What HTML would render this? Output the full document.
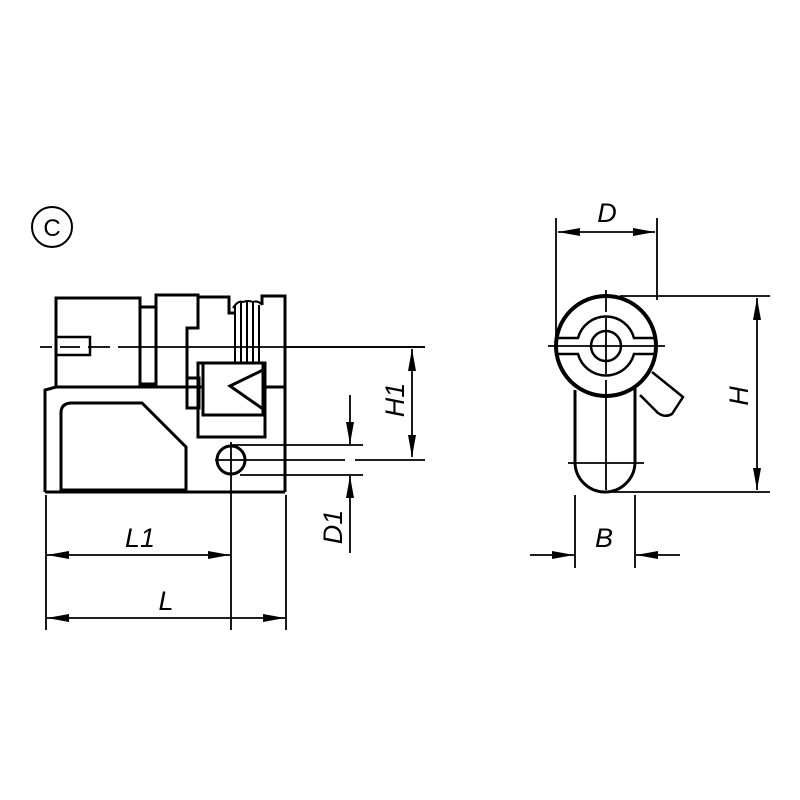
<!DOCTYPE html>
<html><head><style>body{margin:0;background:#fff}svg{display:block}</style></head><body>
<svg width="800" height="800" viewBox="0 0 800 800" xmlns="http://www.w3.org/2000/svg">
<defs>
<marker id="a" viewBox="0 0 22 8" refX="22" refY="4" markerWidth="22" markerHeight="8" markerUnits="userSpaceOnUse" orient="auto-start-reverse"><path d="M0,0 L22,4 L0,8 z" fill="#000"/></marker>
</defs>
<g fill="none" stroke="#000" stroke-width="3" stroke-linejoin="miter">
<circle cx="52" cy="227" r="20" stroke-width="2"/>
<path d="M56,387 V298 H140 V307 H155"/>
<rect x="140" y="307" width="16" height="77"/>
<path d="M156,384 V295 H198 V328 H187 V378"/>
<rect x="187" y="378" width="12" height="30"/>
<path d="M198,297 H229 V313 H234"/>
<path d="M262,305 V296 H285 V492"/>
<path d="M45,492 V390 L56,387 H202"/>
<path d="M263,387 H285"/>
<path d="M45,492 H285"/>
<path d="M61,490 V413 Q61,403 72,403 H142 L186,447 V490 Z"/>
<rect x="198" y="363" width="67" height="74"/>
<rect x="203" y="363" width="60" height="52"/>
<path d="M263,370 L230,386 L263,409"/>
<g stroke-width="2"><path d="M235,363 V305 M241,363 V302 M247,363 V302 M253,363 V302 M259,363 V305 M233,308 Q238,300 243,302 Q248,300 253,302 Q258,300 262,305"/></g>
<circle cx="231" cy="460" r="14"/>
<path d="M56,337 H90 V355 H56" stroke-width="2.5"/>
<g stroke-width="1.8">
<path d="M40,347 H52 M60,347 H80 M88,347 H110 M118,347 H425"/>
<path d="M231,442 V630 M215,460 H345 M355,460 H425 M231,445 H363 M240,475 H363 M46,495 V630 M286,495 V630 M286,347 H425"/>
<path d="M412,349 V457" marker-start="url(#a)" marker-end="url(#a)"/>
<path d="M350,395 V444" marker-end="url(#a)"/>
<path d="M350,553 V476" marker-end="url(#a)"/>
<path d="M47,555 H230" marker-start="url(#a)" marker-end="url(#a)"/>
<path d="M47,618 H285" marker-start="url(#a)" marker-end="url(#a)"/>
</g>
<path d="M575,390 V462 A30,30 0 0 0 635,462 V385" />
<circle cx="606" cy="346" r="50" stroke-width="4"/>
<circle cx="606" cy="346" r="15" stroke-width="2.5"/>
<path d="M557,338 H578 A29,29 0 0 1 634,338 H655 M557,354 H578 A29,29 0 0 0 634,354 H655" stroke-width="2.5"/>
<path d="M652,372 L683,397 L672,414 Q665,418 658,413 L640,395" stroke-width="2.5"/>
<g stroke-width="1.8">
<path d="M548,346 H665 M606,290 V312 M606,318 V374 M606,380 V490 M568,463 H644 M556,218 V346 M657,218 V300"/>
<path d="M620,296 H770 M610,492 H770 M575,495 V568 M635,495 V568"/>
<path d="M558,232 H655" marker-start="url(#a)" marker-end="url(#a)"/>
<path d="M757,298 V490" marker-start="url(#a)" marker-end="url(#a)"/>
<path d="M530,555 H574" marker-end="url(#a)"/>
<path d="M680,555 H636" marker-end="url(#a)"/>
</g>
</g>
<g font-family="Liberation Sans, sans-serif" font-style="italic" font-size="27" fill="#000" text-anchor="middle">
<text x="52" y="236" font-style="normal" font-size="24">C</text>
<text x="140" y="547">L1</text>
<text x="166" y="610">L</text>
<text transform="translate(404,400) rotate(-90)">H1</text>
<text transform="translate(342,527) rotate(-90)">D1</text>
<text x="607" y="222">D</text>
<text transform="translate(748,396) rotate(-90)">H</text>
<text x="604" y="547">B</text>
</g>
</svg>
</body></html>
